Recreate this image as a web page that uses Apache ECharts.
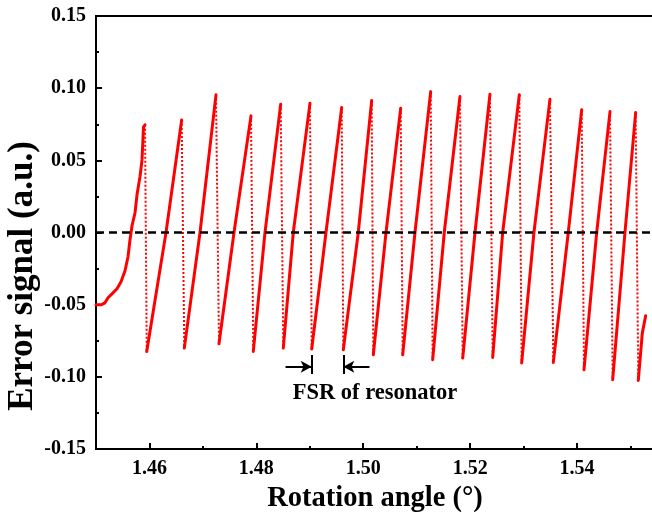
<!DOCTYPE html>
<html>
<head>
<meta charset="utf-8">
<script src="https://cdn.jsdelivr.net/npm/echarts@6/dist/echarts.min.js"></script>
<style>html,body{margin:0;padding:0;background:#fff}#c{width:652px;height:516px}</style>
</head>
<body>
<div id="c"></div>
<script>
// ---- data ----
const startX = [1.45000, 1.45094, 1.45168, 1.45225, 1.45299, 1.45393, 1.45468, 1.45543, 1.45599, 1.45636, 1.45674, 1.45730, 1.45767, 1.45823, 1.45861, 1.45889];
const startY = [-0.0501, -0.0501, -0.0487, -0.0452, -0.0425, -0.0390, -0.0342, -0.0265, -0.0168, -0.0050, 0.0047, 0.0137, 0.0261, 0.0386, 0.0503, 0.0732];
const peakX = [1.45917, 1.46603, 1.47245, 1.47900, 1.48456, 1.49004, 1.49597, 1.50158, 1.50701, 1.51262, 1.51810, 1.52371, 1.52920, 1.53494, 1.54087, 1.54617, 1.55097];
const peakY = [0.0746, 0.0780, 0.0954, 0.0808, 0.0889, 0.0896, 0.0866, 0.0914, 0.0861, 0.0976, 0.0942, 0.0958, 0.0954, 0.0924, 0.0850, 0.0838, 0.0831];
const bottomX = [1.45949, 1.46652, 1.47301, 1.47943, 1.48504, 1.49036, 1.49627, 1.50188, 1.50738, 1.51299, 1.51861, 1.52422, 1.52964, 1.53556, 1.54130, 1.54667, 1.55146];
const bottomY = [-0.0824, -0.0801, -0.0771, -0.0824, -0.0801, -0.0807, -0.0812, -0.0847, -0.0847, -0.0881, -0.0870, -0.0866, -0.0904, -0.0900, -0.0951, -0.1020, -0.1025];
const crossX = [1.46310, 1.46946, 1.47582, 1.48162, 1.48691, 1.49303, 1.49907, 1.50426, 1.50968, 1.51516, 1.52091, 1.52609, 1.53194, 1.53836, 1.54368, 1.54897];
const tailX = [1.55221, 1.55284];
const tailY = [-0.0697, -0.0577];
const xMajorTicks = [1.46, 1.48, 1.50, 1.52, 1.54];
const xMinorTicks = [1.47, 1.49, 1.51, 1.53, 1.55];
const xLabel = 'Rotation angle (°)';
const yLabel = 'Error signal (a.u.)';
const fsrText = 'FSR of resonator';
const fsrIndex = 5; // FSR marked between bottoms 6 and 7

const FONT = "'Liberation Serif','Times New Roman',serif";
const RED = '#ff0000';
const X_MIN = 1.45, X_MAX = 1.5544;

const series = [];
const first = startX.map((x, i) => [x, startY[i]]);
first.push([peakX[0], peakY[0]]);
const rampStyle = {type: 'line', showSymbol: false, symbol: 'none', animation: false, z: 3,
  lineStyle: {color: RED, width: 3, cap: 'round', join: 'round'}};
const dropStyle = {type: 'line', showSymbol: false, symbol: 'none', animation: false, z: 2,
  lineStyle: {color: RED, width: 2, type: [2, 2]}};
series.push(Object.assign({data: first}, rampStyle));
for (let k = 1; k < peakX.length; k++) {
  series.push(Object.assign({data: [[bottomX[k-1], bottomY[k-1]], [crossX[k-1], 0], [peakX[k], peakY[k]]]}, rampStyle));
}
const last = [[bottomX[bottomX.length-1], bottomY[bottomY.length-1]]].concat(tailX.map((x, i) => [x, tailY[i]]));
series.push(Object.assign({data: last}, rampStyle));
for (let k = 0; k < peakX.length; k++) {
  series.push(Object.assign({data: [[peakX[k], peakY[k]], [bottomX[k], bottomY[k]]]}, dropStyle));
}
// zero reference line
series.push({type: 'line', data: [], z: 10, animation: false,
  markLine: {silent: true, symbol: 'none', animation: false,
    lineStyle: {color: '#000', width: 2.5, type: [8, 5]}, label: {show: false},
    data: [{yAxis: 0}]}});
// FSR annotation
const bx1 = bottomX[fsrIndex], bx2 = bottomX[fsrIndex+1];
const barTop = -0.0848, barBot = -0.0980, arrY = -0.0930, arrLen = 0.0049;
series.push({type: 'line', data: [], z: 10, animation: false,
  markLine: {silent: true, animation: false, symbol: 'none',
    lineStyle: {color: '#000', width: 2, type: 'solid'}, label: {show: false},
    data: [
      [{coord: [bx1, barTop]}, {coord: [bx1, barBot]}],
      [{coord: [bx2, barTop]}, {coord: [bx2, barBot]}],
      [{coord: [bx1 - arrLen, arrY], symbol: 'none'}, {coord: [bx1, arrY], symbol: 'arrow', symbolSize: [9, 11]}],
      [{coord: [bx2 + arrLen, arrY], symbol: 'none'}, {coord: [bx2, arrY], symbol: 'arrow', symbolSize: [9, 11]}]
    ]},
  markPoint: {silent: true, animation: false, symbol: 'rect', symbolSize: 1,
    itemStyle: {color: 'rgba(0,0,0,0)'},
    label: {show: true, position: 'inside', formatter: fsrText, color: '#000',
      fontFamily: FONT, fontWeight: 'bold', fontSize: 22.5},
    data: [{coord: [1.5022, -0.1110]}]}
});

const chart = echarts.init(document.getElementById('c'), null, {renderer: 'canvas'});
const fmt = v => (Math.abs(v) < 1e-9 ? '0.00' : v.toFixed(2));
chart.setOption({
  animation: false,
  backgroundColor: '#fff',
  grid: {left: 96, right: -2, top: 16, bottom: 67, containLabel: false, outerBoundsMode: 'none',
    show: true, borderColor: '#000', borderWidth: 2, backgroundColor: 'transparent'},
  xAxis: [{
    type: 'value', min: X_MIN, max: X_MAX, position: 'bottom',
    axisLine: {show: true, onZero: false, lineStyle: {color: '#000', width: 2}},
    axisTick: {show: true, inside: true, length: 6, lineStyle: {color: '#000', width: 2}, customValues: xMajorTicks},
    axisLabel: {show: true, customValues: xMajorTicks, formatter: fmt, margin: 10, color: '#000',
      fontFamily: FONT, fontWeight: 'bold', fontSize: 20},
    splitLine: {show: false},
    name: xLabel, nameLocation: 'middle', nameGap: 34,
    nameTextStyle: {color: '#000', fontFamily: FONT, fontWeight: 'bold', fontSize: 28.5}
  }, {
    type: 'value', min: X_MIN, max: X_MAX, position: 'bottom', offset: 0,
    axisLine: {show: false, onZero: false},
    axisTick: {show: true, inside: true, length: 3, lineStyle: {color: '#000', width: 2}, customValues: xMinorTicks},
    axisLabel: {show: false},
    splitLine: {show: false}
  }],
  yAxis: {
    type: 'value', min: -0.15, max: 0.15, interval: 0.05,
    axisLine: {show: true, onZero: false, lineStyle: {color: '#000', width: 2}},
    axisTick: {show: true, inside: true, length: 6, lineStyle: {color: '#000', width: 2}},
    minorTick: {show: true, splitNumber: 2, length: 3, lineStyle: {color: '#000', width: 2}},
    axisLabel: {formatter: fmt, margin: 10, color: '#000', fontFamily: FONT, fontWeight: 'bold', fontSize: 20},
    splitLine: {show: false}
  },
  graphic: [{
    type: 'text', rotation: Math.PI / 2,
    x: 23, y: 276,
    style: {text: yLabel, fill: '#000', font: 'bold 35px ' + FONT, textAlign: 'center', textVerticalAlign: 'middle'}
  }],
  series: series
});
</script>
</body>
</html>
